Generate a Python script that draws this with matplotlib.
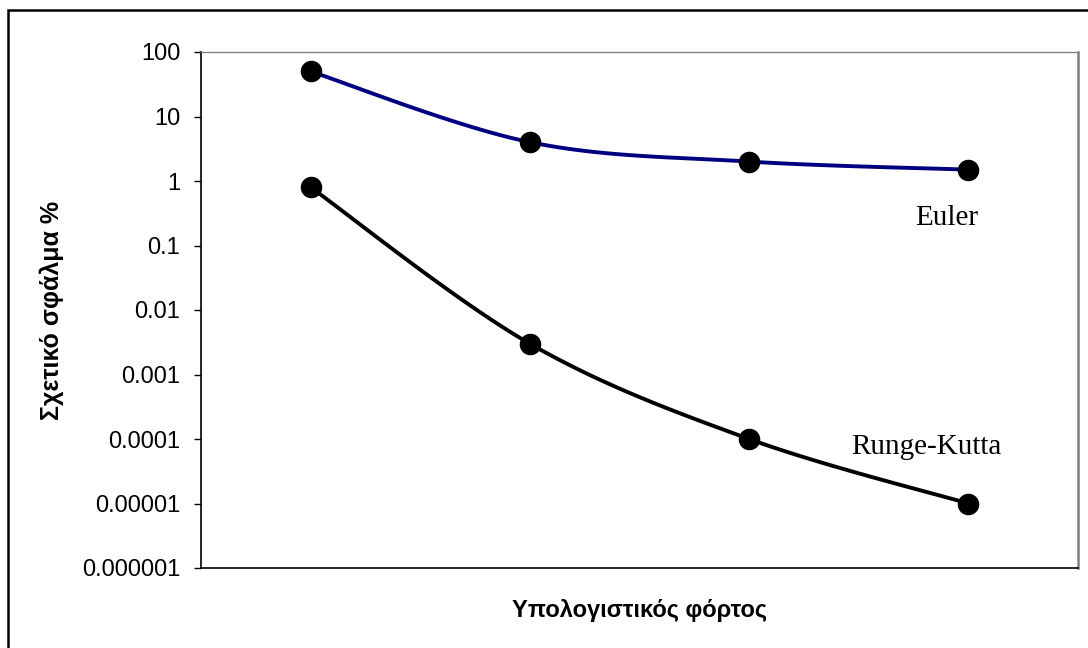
import numpy as np
import matplotlib.pyplot as plt
from matplotlib.patches import Rectangle
from matplotlib.ticker import FixedLocator, FuncFormatter, NullLocator

# Relative error (%) for four levels of computational load
steps = [1, 2, 3, 4]
euler_err = [50, 4, 2, 1.5]
rk_err = [0.8, 0.003, 0.0001, 0.00001]
y_ticks = [1e2, 1e1, 1, 1e-1, 1e-2, 1e-3, 1e-4, 1e-5, 1e-6]


def smooth(xs, ys, n=30):
    # Catmull-Rom curve through the points, done in log-y space
    x = np.asarray(xs, float)
    y = np.log10(np.asarray(ys, float))
    px = np.concatenate([[x[0]], x, [x[-1]]])
    py = np.concatenate([[y[0]], y, [y[-1]]])
    t = np.linspace(0, 1, n)
    out_x, out_y = [], []
    for i in range(1, len(px) - 2):
        for p, out in ((px, out_x), (py, out_y)):
            p0, p1, p2, p3 = p[i - 1], p[i], p[i + 1], p[i + 2]
            out.extend(0.5 * (2 * p1 + (-p0 + p2) * t
                              + (2 * p0 - 5 * p1 + 4 * p2 - p3) * t ** 2
                              + (-p0 + 3 * p1 - 3 * p2 + p3) * t ** 3))
    return np.array(out_x), 10 ** np.array(out_y)


fig = plt.figure(figsize=(10.88, 6.48), dpi=100)
ax = fig.add_axes([201 / 1088, 1 - 568 / 648, 877 / 1088, 516 / 648])

# outer frame of the chart
fig.patches.append(Rectangle((8 / 1088, -0.1), 1.2, 1 - 10 / 648 + 0.1,
                             transform=fig.transFigure, fill=False,
                             edgecolor='black', linewidth=1.8))

for ys, col in ((euler_err, '#000080'), (rk_err, 'black')):
    sx, sy = smooth(steps, ys)
    ax.plot(sx, sy, color=col, linewidth=2.8, solid_capstyle='round')
    ax.plot(steps, ys, 'o', color='black', markersize=14.5)

ax.set_yscale('log')
ax.set_ylim(1e-6, 100)
ax.set_xlim(0.5, 4.5)
ax.yaxis.set_major_locator(FixedLocator(y_ticks))
ax.yaxis.set_minor_locator(NullLocator())
ax.yaxis.set_major_formatter(FuncFormatter(
    lambda v, pos: np.format_float_positional(v, trim='-')))
ax.set_xticks([])
ax.tick_params(axis='y', direction='out', length=5, width=1, pad=10,
               labelsize=17, labelfontfamily='Liberation Sans')

ax.spines['left'].set_linewidth(1.2)
ax.spines['bottom'].set_linewidth(1.2)
ax.spines['top'].set_color('#808080')
ax.spines['top'].set_linewidth(1)
ax.spines['right'].set_color('#808080')
ax.spines['right'].set_linewidth(1.8)

ax.set_ylabel('Σχετικό σφάλμα %', fontsize=18, fontweight='bold',
              family='Liberation Sans', labelpad=13)
ax.set_xlabel('Υπολογιστικός φόρτος', fontsize=17, fontweight='bold',
              family='Liberation Sans', labelpad=22)

ax.text(3.9, 0.27, 'Euler', fontsize=21, family='Liberation Serif',
        ha='center', va='center')
ax.text(3.81, 0.000075, 'Runge-Kutta', fontsize=21,
        family='Liberation Serif', ha='center', va='center')

fig.savefig('out.png', dpi=100)
